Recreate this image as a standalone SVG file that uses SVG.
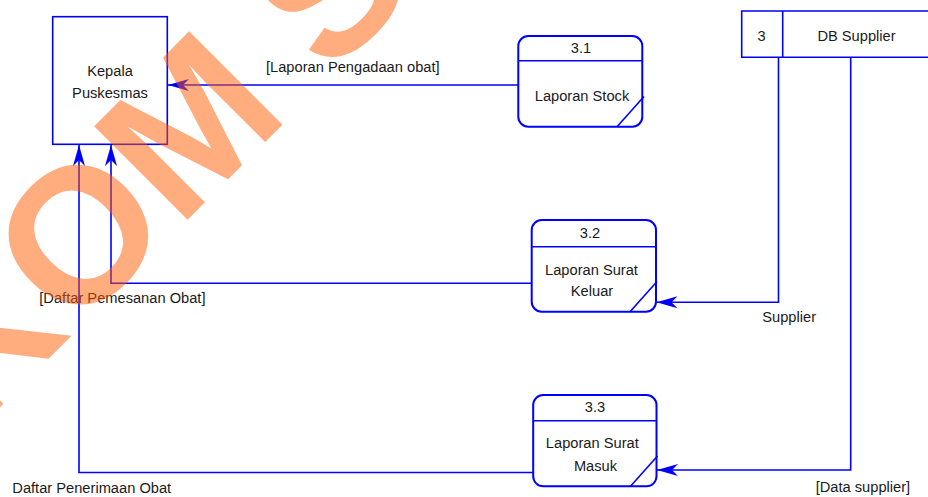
<svg xmlns="http://www.w3.org/2000/svg" width="928" height="497" viewBox="0 0 928 497">
  <style>
    .lbl { font-family: "Liberation Sans", Arial, sans-serif; font-size: 14.67px; fill: #1a1a1a; }
    .mid { text-anchor: middle; }
    .box { fill: #ffffff; stroke: #0000ff; stroke-width: 1.6; }
    .proc { fill: #ffffff; stroke: #0000ff; stroke-width: 2; }
    .edge { fill: none; stroke: #0000ff; stroke-width: 1.6; }
    .flow { fill: none; stroke: #0000ff; stroke-width: 1.6; marker-end: url(#arrow); }
    .mark { font-family: "Liberation Sans", Arial, sans-serif; font-size: 192px; font-weight: bold; fill: #ff5a00; fill-opacity: 0.5; }
  </style>
  <defs>
    <marker id="arrow" markerUnits="userSpaceOnUse" viewBox="-22 -7 23 14" refX="0" refY="0" markerWidth="23" markerHeight="14" orient="auto">
      <path d="M0,0 L-21,-6 L-15,0 L-21,6 Z" fill="#0000ff"/>
    </marker>
  </defs>
  <rect width="928" height="497" fill="#ffffff"/>

  <!-- data flows -->
  <g id="connectors">
    <path class="flow" d="M518.3,85 H168"/>
    <path class="flow" d="M531.7,283.3 H111 V145"/>
    <path class="flow" d="M533,472.5 H79 V145"/>
    <path class="flow" d="M778.5,57.3 V302.3 H656.5"/>
    <path class="flow" d="M850.7,57.3 V470 H657"/>
    <text class="lbl" x="266" y="72">[Laporan Pengadaan obat]</text>
    <text class="lbl" x="39.3" y="303.3">[Daftar Pemesanan Obat]</text>
    <text class="lbl" x="12.3" y="493">Daftar Penerimaan Obat</text>
    <text class="lbl" x="762.3" y="321.7">Supplier</text>
    <text class="lbl" x="815.7" y="491.7">[Data supplier]</text>
  </g>

  <!-- external entity -->
  <g id="kepala-puskesmas">
    <rect class="box" x="52.7" y="16.7" width="114.6" height="127.6"/>
    <text class="lbl mid" x="110" y="76">Kepala</text>
    <text class="lbl mid" x="110" y="97.7">Puskesmas</text>
  </g>

  <!-- processes -->
  <g id="proc-3-1">
    <rect class="proc" x="518.3" y="36" width="124" height="90.7" rx="10" ry="10"/>
    <line class="edge" x1="518.3" y1="60.7" x2="642.3" y2="60.7"/>
    <line class="edge" x1="617" y1="126.7" x2="644" y2="96.5"/>
    <text class="lbl mid" x="581" y="53.3">3.1</text>
    <text class="lbl mid" x="582" y="100.7">Laporan Stock</text>
  </g>

  <g id="proc-3-2">
    <rect class="proc" x="531.7" y="220" width="124.3" height="91.7" rx="10" ry="10"/>
    <line class="edge" x1="531.7" y1="246.7" x2="656" y2="246.7"/>
    <line class="edge" x1="630" y1="311.7" x2="657" y2="281.5"/>
    <text class="lbl mid" x="590" y="238.3">3.2</text>
    <text class="lbl mid" x="591.5" y="274.5">Laporan Surat</text>
    <text class="lbl mid" x="592" y="296.2">Keluar</text>
  </g>

  <g id="proc-3-3">
    <rect class="proc" x="533.2" y="395" width="123.3" height="91.3" rx="10" ry="10"/>
    <line class="edge" x1="533.2" y1="420.7" x2="656.5" y2="420.7"/>
    <line class="edge" x1="630.5" y1="486.3" x2="657.5" y2="456"/>
    <text class="lbl mid" x="595" y="411.7">3.3</text>
    <text class="lbl mid" x="592.3" y="448.3">Laporan Surat</text>
    <text class="lbl mid" x="595.5" y="470.7">Masuk</text>
  </g>

  <!-- data store -->
  <g id="db-supplier">
    <path class="box" d="M930,11 H741.7 V57.3 H930"/>
    <line class="edge" x1="782.7" y1="11" x2="782.7" y2="57.3"/>
    <text class="lbl mid" x="761.7" y="40.5">3</text>
    <text class="lbl mid" x="856.5" y="40.5">DB Supplier</text>
  </g>

  <!-- watermark -->
  <text class="mark" transform="translate(72.8,334.4) rotate(-45)" x="-138.6">KOM S</text>
</svg>
